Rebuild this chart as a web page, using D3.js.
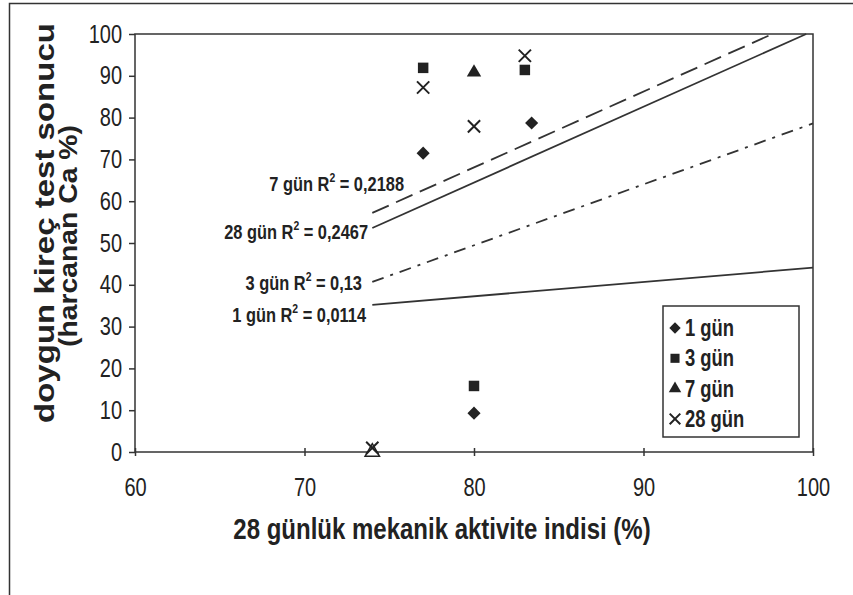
<!DOCTYPE html>
<html>
<head>
<meta charset="utf-8">
<script src="https://cdn.jsdelivr.net/npm/d3@7"></script>
<style>
body { margin: 0; background: #fff; }
text { fill: #222; }
</style>
</head>
<body>
<script>
var w = 853, h = 595;
var font = "'Liberation Sans', Arial, sans-serif";
var squeeze = 0.8;   // the picture uses a narrow face; squash a normal one instead

// data
var series = ["1 gün", "3 gün", "7 gün", "28 gün"];
var mai = {
  "1 gün": [77, 80, 83.4],
  "3 gün": [77, 80, 83],
  "7 gün": [80, 74],
  "28 gün": [77, 80, 83, 74]
};
var lime = {
  "1 gün": [71.5, 9.3, 78.7],
  "3 gün": [91.9, 15.8, 91.4],
  "7 gün": [90.8, 0],
  "28 gün": [87.2, 77.9, 94.8, 1]
};
// trend lines: [x0, y0, x1, y1]
var trend = {
  "7 gün": [74, 57.2, 97.6, 100],
  "28 gün": [74, 53.6, 99.6, 100],
  "3 gün": [74, 40.7, 100, 78.6],
  "1 gün": [74, 35.2, 100, 44.1]
};
var trendLabels = ["7 gün R2 = 0,2188", "28 gün R2 = 0,2467", "3 gün R2 = 0,13", "1 gün R2 = 0,0114"];
var xTicks = [60, 70, 80, 90, 100];
var yTicks = [0, 10, 20, 30, 40, 50, 60, 70, 80, 90, 100];

var svg = d3.select("body").append("svg").attr("width", w).attr("height", h);

// outer frame of the figure
svg.append("path").attr("d", "M9.5," + h + "V3.5H" + w)
  .attr("fill", "none").attr("stroke", "#333").attr("stroke-width", 1.5);

var pLeft = 135, pRight = 813, pTop = 34, pBottom = 452;
var x = d3.scaleLinear().domain([60, 100]).range([pLeft, pRight]);
var y = d3.scaleLinear().domain([0, 100]).range([pBottom, pTop]);

var g = svg.append("g");

// squashed text placed at (px, py)
var narrowText = function(parent, px, py, anchor, size, bold) {
  var t = parent.append("g").attr("transform", "translate(" + px + "," + py + ")")
    .append("text").attr("transform", "scale(" + squeeze + ",1)")
    .attr("text-anchor", anchor).attr("font-family", font)
    .attr("font-size", size).attr("font-weight", bold ? "bold" : "normal");
  return t;
};

g.append("rect").attr("x", pLeft).attr("y", pTop)
  .attr("width", pRight - pLeft).attr("height", pBottom - pTop)
  .attr("fill", "none").attr("stroke", "#333").attr("stroke-width", 1.5);

var yAxis = g.append("g").attr("transform", "translate(" + pLeft + ",0)")
  .call(d3.axisLeft(y).tickValues(yTicks).tickSize(6).tickPadding(8));
var xAxis = g.append("g").attr("transform", "translate(0," + pBottom + ")")
  .call(d3.axisBottom(x).tickValues(xTicks).tickSize(4).tickPadding(22));
[yAxis, xAxis].forEach(function(a) {
  a.select(".domain").remove();
  a.selectAll("line").attr("stroke", "#333").attr("stroke-width", 1.5);
  a.selectAll("text").attr("font-family", font).attr("font-size", 25)
    .attr("fill", "#333").attr("transform", "scale(" + squeeze + ",1)");
});
yAxis.selectAll("text").attr("x", -13 / squeeze);
xAxis.selectAll(".tick line").attr("y1", -4).attr("y2", 4);

// trend lines
var dashes = { "7 gün": "18,8", "28 gün": null, "3 gün": "12,7,3,7", "1 gün": null };
series.forEach(function(s) {
  var t = trend[s];
  g.append("line")
    .attr("x1", x(t[0])).attr("y1", y(t[1]))
    .attr("x2", x(t[2])).attr("y2", y(t[3]))
    .attr("stroke", "#333").attr("stroke-width", 1.8)
    .attr("stroke-dasharray", dashes[s]);
});

// labels of the trend lines
var labelPos = [[404, 191], [368, 239], [362, 290], [366, 322]];
trendLabels.forEach(function(l, i) {
  var parts = l.split("R2");
  var t = narrowText(g, labelPos[i][0], labelPos[i][1], "end", 20.5, true);
  t.append("tspan").text(parts[0] + "R");
  t.append("tspan").attr("dy", -9).attr("font-size", 13).text("2");
  t.append("tspan").attr("dy", 9).text(parts[1]);
});

// markers
var drawMark = function(sel, s, k) {
  var sizes = { "1 gün": 110, "3 gün": 110, "7 gün": 90, "28 gün": 100 };
  var types = { "1 gün": d3.symbolDiamond2, "3 gün": d3.symbolSquare,
                "7 gün": d3.symbolTriangle, "28 gün": d3.symbolX };
  sel.attr("d", d3.symbol().type(types[s]).size(sizes[s] * k)());
  if (s === "28 gün") {
    sel.attr("fill", "none").attr("stroke", "#222").attr("stroke-width", 2);
  } else {
    sel.attr("fill", "#222");
  }
};
series.forEach(function(s) {
  mai[s].forEach(function(v, i) {
    var p = g.append("path")
      .attr("transform", "translate(" + x(v) + "," + y(lime[s][i]) + ")");
    drawMark(p, s, 1);
    if (s === "7 gün" && lime[s][i] === 0) {
      p.attr("fill", "#fff").attr("stroke", "#222").attr("stroke-width", 1.5);
    }
  });
});

// legend
g.append("rect").attr("x", 663).attr("y", 306).attr("width", 136).attr("height", 131)
  .attr("fill", "#fff").attr("stroke", "#333").attr("stroke-width", 1.5);
series.forEach(function(s, i) {
  var ly = 328 + i * 30.3;
  var p = g.append("path").attr("transform", "translate(675," + ly + ")");
  drawMark(p, s, 0.75);
  narrowText(g, 685, ly + 8, "start", 23, true).text(s);
});

// axis titles
narrowText(svg, 442, 539, "middle", 30, true)
  .text("28 günlük mekanik aktivite indisi (%)");

svg.append("text").attr("transform", "translate(54,223) rotate(-90)")
  .attr("text-anchor", "middle").attr("font-family", font)
  .attr("font-weight", "bold").attr("font-size", 27)
  .attr("textLength", 400).attr("lengthAdjust", "spacingAndGlyphs")
  .text("doygun kireç test sonucu");
svg.append("text").attr("transform", "translate(77,236) rotate(-90)")
  .attr("text-anchor", "middle").attr("font-family", font)
  .attr("font-weight", "bold").attr("font-size", 26)
  .attr("textLength", 222).attr("lengthAdjust", "spacingAndGlyphs")
  .text("(harcanan Ca %)");
</script>
</body>
</html>
